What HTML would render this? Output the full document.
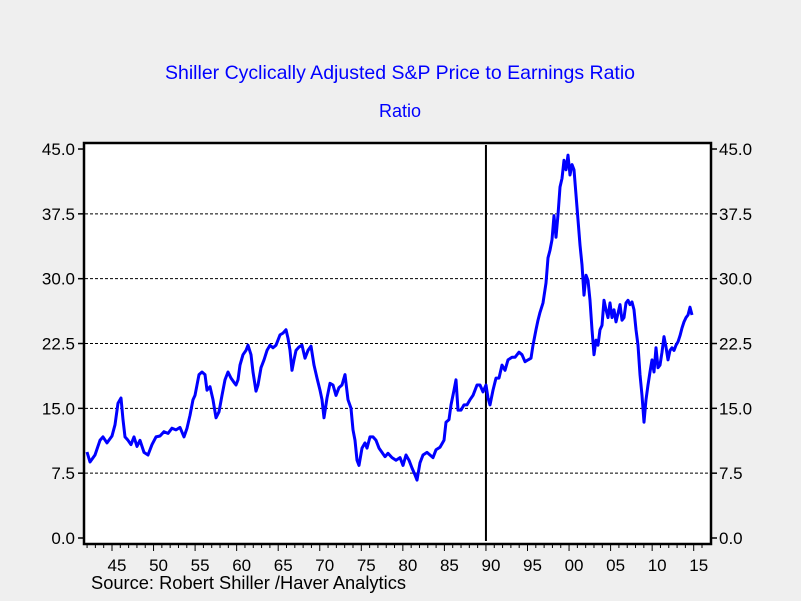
<!DOCTYPE html>
<html><head><meta charset="utf-8"><style>
body{margin:0;background:#efefef;}
svg{display:block;font-family:"Liberation Sans",sans-serif;}
</style></head><body>
<svg id="chart" width="801" height="601">
<rect x="0" y="0" width="801" height="601" fill="#efefef"/>
<text x="400" y="79" text-anchor="middle" font-size="19.5" fill="#0000ff">Shiller Cyclically Adjusted S&amp;P Price to Earnings Ratio</text>
<text x="400" y="117" text-anchor="middle" font-size="18" fill="#0000ff">Ratio</text>
<rect x="84" y="143" width="627" height="401" fill="#ffffff" stroke="#000" stroke-width="2.5"/>
<g id="grid"></g><g id="axes"></g><g id="series"></g>
<text x="91" y="589" font-size="18.3" fill="#000">Source:  Robert Shiller /Haver Analytics</text>
</svg>
<script>
const years=[1941.99,1942.35,1942.95,1943.56,1943.92,1944.4,1945.0,1945.36,1945.72,1946.08,1946.32,1946.56,1946.93,1947.29,1947.65,1948.01,1948.37,1948.85,1949.33,1949.81,1950.29,1950.78,1951.26,1951.74,1952.22,1952.7,1953.18,1953.66,1954.03,1954.39,1954.75,1954.99,1955.23,1955.47,1955.83,1956.19,1956.43,1956.79,1957.15,1957.52,1957.88,1958.24,1958.6,1958.96,1959.32,1959.68,1959.92,1960.16,1960.4,1960.76,1961.13,1961.37,1961.73,1961.97,1962.33,1962.57,1962.93,1963.29,1963.65,1964.01,1964.37,1964.74,1965.22,1965.58,1965.94,1966.18,1966.42,1966.66,1966.9,1967.14,1967.5,1967.86,1968.23,1968.59,1968.95,1969.31,1969.67,1970.03,1970.27,1970.51,1970.87,1971.23,1971.59,1971.96,1972.32,1972.68,1973.04,1973.4,1973.76,1974.0,1974.24,1974.48,1974.72,1975.08,1975.45,1975.69,1976.05,1976.41,1976.77,1977.13,1977.49,1977.85,1978.21,1978.69,1979.18,1979.66,1980.02,1980.38,1980.74,1981.1,1981.46,1981.7,1982.06,1982.42,1982.91,1983.27,1983.63,1983.99,1984.47,1984.95,1985.19,1985.55,1985.79,1986.16,1986.4,1986.64,1987.0,1987.36,1987.72,1988.08,1988.44,1988.92,1989.28,1989.65,1990.01,1990.25,1990.49,1990.85,1991.21,1991.57,1991.93,1992.29,1992.65,1993.13,1993.5,1993.98,1994.34,1994.7,1995.06,1995.42,1995.66,1996.02,1996.26,1996.5,1996.87,1997.23,1997.47,1997.71,1997.95,1998.19,1998.43,1998.67,1998.91,1999.15,1999.39,1999.63,1999.87,2000.11,2000.35,2000.6,2000.84,2001.08,2001.32,2001.56,2001.8,2002.04,2002.28,2002.52,2002.76,2003.0,2003.24,2003.48,2003.72,2003.97,2004.21,2004.45,2004.69,2004.93,2005.17,2005.41,2005.65,2005.89,2006.13,2006.37,2006.61,2006.85,2007.09,2007.33,2007.58,2007.82,2008.06,2008.3,2008.54,2008.78,2009.02,2009.26,2009.5,2009.74,2009.98,2010.22,2010.46,2010.7,2010.95,2011.19,2011.43,2011.67,2011.91,2012.15,2012.39,2012.63,2012.87,2013.11,2013.35,2013.59,2013.83,2014.07,2014.31,2014.56,2014.8];
const cape=[9.95,8.79,9.6,11.3,11.7,11.0,11.8,13.1,15.6,16.2,13.7,11.7,11.3,10.8,11.7,10.6,11.3,9.9,9.6,10.8,11.7,11.8,12.3,12.1,12.7,12.5,12.8,11.7,12.7,14.2,16.0,16.5,17.7,18.9,19.2,18.9,17.1,17.5,16.0,13.9,14.6,16.5,18.3,19.2,18.5,18.0,17.7,18.3,20.0,21.2,21.7,22.3,21.2,19.2,17.0,17.7,19.7,20.6,21.7,22.3,22.0,22.3,23.5,23.7,24.1,23.1,21.7,19.4,20.6,21.7,22.1,22.3,20.8,21.7,22.2,20.0,18.5,17.1,16.0,13.9,16.2,17.9,17.7,16.5,17.4,17.7,18.9,16.0,15.0,12.5,11.3,9.0,8.4,10.4,11.0,10.4,11.7,11.7,11.3,10.4,9.9,9.4,9.8,9.3,9.0,9.3,8.4,9.6,9.0,8.1,7.3,6.7,8.7,9.6,9.9,9.6,9.3,10.2,10.5,11.3,13.4,13.7,15.4,17.1,18.3,14.8,14.8,15.4,15.4,16.0,16.5,17.7,17.7,16.9,17.7,16.2,15.4,17.1,18.5,18.5,20.0,19.4,20.6,20.9,20.9,21.5,21.2,20.4,20.6,20.8,22.3,24.1,25.2,26.1,27.2,29.5,32.4,33.3,34.5,37.3,34.8,37.4,40.6,41.6,43.7,42.6,44.3,42.0,43.2,42.6,39.7,36.8,33.9,31.6,28.1,30.4,29.8,27.5,24.1,21.2,22.9,22.3,24.1,24.6,27.5,26.4,25.5,27.2,25.5,26.4,25.0,26.0,27.0,25.2,25.5,27.2,27.5,27.0,27.3,26.4,24.1,22.3,18.9,16.5,13.4,16.0,17.7,19.2,20.6,19.2,22.0,19.7,20.0,21.5,23.3,22.1,20.6,21.7,22.0,21.7,22.3,22.7,23.4,24.3,25.0,25.5,25.8,26.7,25.8];
const yTicks=[0,7.5,15,22.5,30,37.5,45];
const yTickLabels=["0.0","7.5","15.0","22.5","30.0","37.5","45.0"];
const xTickYears=[1945,1950,1955,1960,1965,1970,1975,1980,1985,1990,1995,2000,2005,2010,2015];
const xTickLabels=["45","50","55","60","65","70","75","80","85","90","95","00","05","10","15"];
const markerYear=[1990];

const NS="http://www.w3.org/2000/svg";
const X=y=>112+(y-1945)*8.31;
const Y=v=>538-v*8.644;
function mk(tag,attrs,parent){const e=document.createElementNS(NS,tag);for(const k in attrs)e.setAttribute(k,attrs[k]);parent.appendChild(e);return e;}
const grid=document.getElementById('grid'),axes=document.getElementById('axes'),series=document.getElementById('series');

yTicks.forEach((v,i)=>{
  const y=Y(v);
  if(v>0&&v<45){const g=mk('line',{x1:85,x2:710,y1:y,y2:y,stroke:'#000','stroke-width':1,'stroke-dasharray':'3,2'},grid);
  
  }
  const t1=mk('line',{x1:78,x2:84,y1:y,y2:y,stroke:'#000','stroke-width':1.5},axes);
  
  
  const t2=mk('line',{x1:711,x2:717,y1:y,y2:y,stroke:'#000','stroke-width':1.5},axes);
  
  
  const l1=mk('text',{x:75,y:y+6,'text-anchor':'end','font-size':17,fill:'#000'},axes);l1.textContent=yTickLabels[i];
  
  
  const l2=mk('text',{x:719,y:y+6,'font-size':17,fill:'#000'},axes);l2.textContent=yTickLabels[i];
  
  
});
for(let yr=1942;yr<=2017;yr++){
  const x=X(yr);if(x<85||x>710)continue;
  const major=yr%5===0;
  const t=mk('line',{x1:x,x2:x,y1:545,y2:major?551:548,stroke:'#000','stroke-width':1},axes);
  
  
}
xTickYears.forEach((yr,i)=>{
  const l=mk('text',{x:X(yr)+5,y:571,'text-anchor':'middle','font-size':17,fill:'#000'},axes);l.textContent=xTickLabels[i];
  
  
});
markerYear.forEach(yr=>{
  const m=mk('line',{x1:X(yr),x2:X(yr),y1:145,y2:541,stroke:'#000','stroke-width':2},grid);
  
  
});
const pts=years.map((yr,i)=>X(yr).toFixed(1)+','+Y(cape[i]).toFixed(1)).join(' ');
const line=mk('polyline',{points:pts,fill:'none',stroke:'#0000ff','stroke-width':3,'stroke-linejoin':'round'},series);


</script>
</body></html>
